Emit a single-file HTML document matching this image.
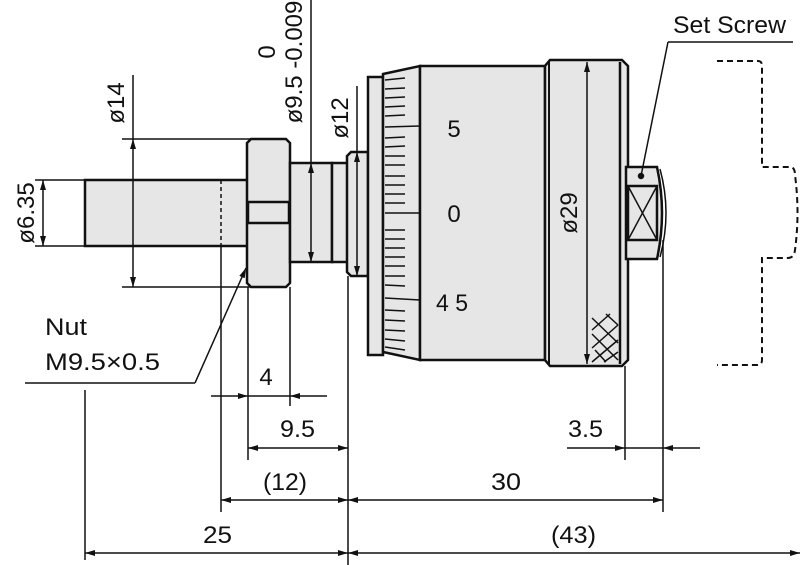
<!DOCTYPE html>
<html><head><meta charset="utf-8"><style>
html,body{margin:0;padding:0;background:#fff;}
svg{display:block;}
text{font-family:"Liberation Sans Narrow","Liberation Sans",sans-serif;font-size:24px;fill:#111;}
</style></head><body>
<svg width="800" height="565" viewBox="0 0 800 565" xmlns="http://www.w3.org/2000/svg">
<defs>
<marker id="a" viewBox="0 0 10 6" refX="10" refY="3" markerWidth="10" markerHeight="6" markerUnits="userSpaceOnUse" orient="auto"><path d="M0,0 L10,3 L0,6 z" fill="#111"/></marker>
</defs>
<g stroke="#111" fill="#e6e6e6" stroke-width="2.5">
<rect x="85" y="180" width="163" height="66"/>
<path d="M251,139 H286 L290,143 V283 L286,287 H251 L247,283 V143 Z"/>
<rect x="248" y="202" width="41" height="21"/>
<rect x="290" y="163" width="42" height="99"/>
<rect x="332" y="163" width="16" height="99"/>
<path d="M351,152 H368 V276 H351 L347,272 V156 Z"/>
<rect x="368" y="77" width="15" height="278"/>
<path d="M383,74 L420,66 V360 L383,352 Z"/>
<rect x="420" y="66" width="125" height="294"/>
<path d="M550,60 H622 L628,66 V360 L622,366 H550 L545,360 V66 Z"/>
<path d="M626,167 H657 Q667,213 657,259 H626 Z"/>
</g>
<g stroke="#111" stroke-width="1.5" fill="none">
<line x1="221" y1="180" x2="221" y2="246" stroke-dasharray="4,3"/>
<line x1="549" y1="61" x2="549" y2="365" stroke-width="2"/>
<line x1="620" y1="62" x2="620" y2="364" stroke-width="2.5"/>
<path d="M660,169 Q672,213 660,257"/>
<rect x="628" y="186" width="29" height="54" stroke-width="2.5"/>
<line x1="628" y1="186" x2="657" y2="240"/><line x1="657" y1="186" x2="628" y2="240"/>
<circle cx="641" cy="176" r="2.5" fill="#111"/>
<!-- knurl cross -->
<path d="M592,330 L610,314 M592,348 L618,325 M592,362 L618,340 M604,362 L618,352 M592,318 L618,343 M592,334 L618,360 M595,350 L606,362 M606,314 L618,325"/>
<g stroke-width="1.5">
<line x1="385" y1="80" x2="405" y2="78"/><line x1="385" y1="89" x2="405" y2="88"/><line x1="385" y1="98" x2="405" y2="97"/><line x1="385" y1="107" x2="405" y2="106"/><line x1="385" y1="116" x2="405" y2="115"/>
<line x1="385" y1="127" x2="420" y2="126"/>
<line x1="385" y1="138" x2="405" y2="137"/><line x1="385" y1="147" x2="405" y2="146"/><line x1="385" y1="156" x2="405" y2="156"/><line x1="385" y1="165" x2="405" y2="165"/><line x1="385" y1="176" x2="405" y2="176"/><line x1="385" y1="185" x2="405" y2="185"/><line x1="385" y1="194" x2="405" y2="194"/><line x1="385" y1="203" x2="405" y2="203"/>
<line x1="385" y1="213" x2="420" y2="213"/>
<line x1="385" y1="230" x2="405" y2="230"/><line x1="385" y1="239" x2="405" y2="239"/><line x1="385" y1="248" x2="405" y2="248"/><line x1="385" y1="257" x2="405" y2="257"/><line x1="385" y1="266" x2="405" y2="266"/><line x1="385" y1="276" x2="405" y2="276"/><line x1="385" y1="285" x2="405" y2="286"/>
<line x1="385" y1="298" x2="420" y2="300"/>
<line x1="385" y1="310" x2="405" y2="311"/><line x1="385" y1="320" x2="405" y2="321"/><line x1="385" y1="330" x2="405" y2="331"/><line x1="385" y1="339" x2="405" y2="341"/><line x1="385" y1="347" x2="405" y2="350"/>
</g>
<path d="M717,61 H758 Q762,61 762,66 V167 H790 Q795,167 795,175 Q800,213 795,250 Q794,258 788,258 H762 V360 Q762,365 757,365 H717" stroke-dasharray="6,4" stroke-width="2"/>
<line x1="35" y1="180" x2="85" y2="180"/><line x1="35" y1="246" x2="85" y2="246"/>
<line x1="122" y1="139" x2="250" y2="139"/><line x1="122" y1="287" x2="250" y2="287"/>
<line x1="85" y1="390" x2="85" y2="560"/>
<line x1="221" y1="246" x2="221" y2="512"/>
<line x1="248" y1="287" x2="248" y2="460"/>
<line x1="290" y1="287" x2="290" y2="406"/>
<line x1="348" y1="276" x2="348" y2="565"/>
<line x1="625" y1="366" x2="625" y2="460"/>
<line x1="663" y1="240" x2="663" y2="512"/>
<line x1="311" y1="0" x2="311" y2="163"/>
<line x1="357" y1="86" x2="357" y2="152"/>
<line x1="43" y1="213" x2="43" y2="180" marker-end="url(#a)"/><line x1="43" y1="213" x2="43" y2="246" marker-end="url(#a)"/>
<line x1="133" y1="75" x2="133" y2="139"/><line x1="133" y1="213" x2="133" y2="287" marker-end="url(#a)"/><line x1="133" y1="213" x2="133" y2="139" marker-end="url(#a)"/>
<line x1="311" y1="213" x2="311" y2="163" marker-end="url(#a)"/><line x1="311" y1="213" x2="311" y2="262" marker-end="url(#a)"/>
<line x1="357" y1="213" x2="357" y2="152" marker-end="url(#a)"/><line x1="357" y1="213" x2="357" y2="276" marker-end="url(#a)"/>
<line x1="587" y1="213" x2="587" y2="62" marker-end="url(#a)"/><line x1="587" y1="213" x2="587" y2="364" marker-end="url(#a)"/>
<line x1="211" y1="396" x2="248" y2="396" marker-end="url(#a)"/><line x1="327" y1="396" x2="290" y2="396" marker-end="url(#a)"/><line x1="248" y1="396" x2="290" y2="396"/>
<line x1="298" y1="448" x2="248" y2="448" marker-end="url(#a)"/><line x1="298" y1="448" x2="348" y2="448" marker-end="url(#a)"/>
<line x1="567" y1="448" x2="625" y2="448" marker-end="url(#a)"/><line x1="700" y1="448" x2="663" y2="448" marker-end="url(#a)"/><line x1="625" y1="448" x2="663" y2="448"/>
<line x1="285" y1="500" x2="221" y2="500" marker-end="url(#a)"/><line x1="285" y1="500" x2="348" y2="500" marker-end="url(#a)"/>
<line x1="505" y1="500" x2="348" y2="500" marker-end="url(#a)"/><line x1="505" y1="500" x2="663" y2="500" marker-end="url(#a)"/>
<line x1="217" y1="553" x2="85" y2="553" marker-end="url(#a)"/><line x1="217" y1="553" x2="348" y2="553" marker-end="url(#a)"/>
<line x1="573" y1="553" x2="348" y2="553" marker-end="url(#a)"/><line x1="573" y1="553" x2="800" y2="553" marker-end="url(#a)"/>
<line x1="25" y1="383" x2="195" y2="383"/><line x1="195" y1="383" x2="246" y2="268" marker-end="url(#a)"/>
<line x1="668" y1="42" x2="793" y2="42"/><line x1="668" y1="42" x2="641" y2="176"/>
</g>
<text x="454" y="137" text-anchor="middle">5</text>
<text x="454" y="222" text-anchor="middle">0</text>
<text x="436" y="311" textLength="32" lengthAdjust="spacingAndGlyphs">4 5</text>
<text x="673" y="33" textLength="113" lengthAdjust="spacingAndGlyphs">Set Screw</text>
<text x="45" y="335" textLength="42" lengthAdjust="spacingAndGlyphs">Nut</text>
<text x="45" y="370" textLength="115" lengthAdjust="spacingAndGlyphs">M9.5×0.5</text>
<text x="266" y="385" text-anchor="middle">4</text>
<text x="280" y="437" textLength="35" lengthAdjust="spacingAndGlyphs">9.5</text>
<text x="568" y="437" textLength="35" lengthAdjust="spacingAndGlyphs">3.5</text>
<text x="263" y="490" textLength="44" lengthAdjust="spacingAndGlyphs">(12)</text>
<text x="491" y="490" textLength="30" lengthAdjust="spacingAndGlyphs">30</text>
<text x="203" y="543" textLength="29" lengthAdjust="spacingAndGlyphs">25</text>
<text x="551" y="543" textLength="45" lengthAdjust="spacingAndGlyphs">(43)</text>
<text transform="translate(34,213) rotate(-90)" text-anchor="middle">ø6.35</text>
<text transform="translate(124,103) rotate(-90)" text-anchor="middle">ø14</text>
<text transform="translate(302,62) rotate(-90)" text-anchor="middle">ø9.5 -0.009</text>
<text transform="translate(275,52) rotate(-90)" text-anchor="middle">0</text>
<text transform="translate(348,118) rotate(-90)" text-anchor="middle">ø12</text>
<text transform="translate(577,213) rotate(-90)" text-anchor="middle">ø29</text>
</svg>
</body></html>
